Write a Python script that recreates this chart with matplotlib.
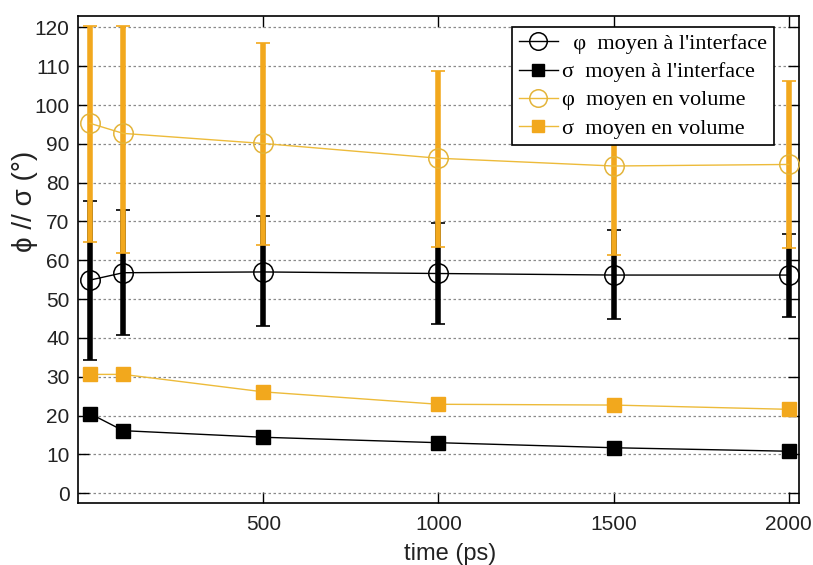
import numpy as np
import matplotlib.pyplot as plt

# time (ps)
t = [5, 100, 500, 1000, 1500, 2000]

# phi at the interface, with error bar ends
phi_int = [54.9, 56.8, 57.0, 56.6, 56.2, 56.2]
phi_int_lo = [34.3, 40.7, 43.0, 43.5, 44.8, 45.4]
phi_int_hi = [75.3, 72.9, 71.4, 69.7, 67.8, 66.9]

# sigma at the interface
sig_int = [20.5, 16.1, 14.4, 13.0, 11.7, 10.8]

# phi in the volume, with error bar ends
phi_vol = [95.3, 92.7, 90.1, 86.3, 84.3, 84.7]
phi_vol_lo = [64.8, 62.0, 63.9, 63.5, 61.3, 63.1]
phi_vol_hi = [120.5, 120.5, 115.9, 108.8, 107.3, 106.3]

# sigma in the volume
sig_vol = [30.6, 30.6, 26.1, 22.9, 22.7, 21.6]

orange = "#F2A81D"
orange_line = "#EDBB3A"

fig = plt.figure(figsize=(8.13, 5.65), dpi=100)
ax = fig.add_axes([0.096, 0.110, 0.887, 0.862])

sans = ["Liberation Sans", "DejaVu Sans"]
serif = ["Liberation Serif", "DejaVu Serif"]

ax.yaxis.grid(True, linestyle=(0, (2, 2)), color="#8a8a8a", linewidth=0.9)
ax.set_axisbelow(True)

t = np.array(t)
phi_int = np.array(phi_int)
phi_vol = np.array(phi_vol)

# error bars: black below orange
ax.errorbar(t, phi_int,
            yerr=[phi_int - np.array(phi_int_lo), np.array(phi_int_hi) - phi_int],
            fmt="none", ecolor="black", elinewidth=4, capsize=5, capthick=1.2,
            zorder=2)
ax.errorbar(t, phi_vol,
            yerr=[phi_vol - np.array(phi_vol_lo), np.array(phi_vol_hi) - phi_vol],
            fmt="none", ecolor=orange, elinewidth=4, capsize=5, capthick=1.2,
            zorder=3)

ax.plot(t, phi_int, color="black", lw=1, marker="o", ms=14, mfc="none",
        mec="black", mew=1.1, zorder=4,
        label="  \u03c6  moyen \u00e0 l'interface")
ax.plot(t, sig_int, color="black", lw=1, marker="s", ms=10, mfc="black",
        mec="black", zorder=4,
        label="\u03c3  moyen \u00e0 l'interface")
ax.plot(t, phi_vol, color=orange_line, lw=1, marker="o", ms=14, mfc="none",
        mec="#E3B43A", mew=1.1, zorder=4,
        label="\u03c6  moyen en volume")
ax.plot(t, sig_vol, color=orange_line, lw=1, marker="s", ms=10, mfc=orange,
        mec=orange, zorder=4,
        label="\u03c3  moyen en volume")

ax.set_xlim(-29, 2030)
ax.set_ylim(-2.5, 123)
ax.set_xticks([500, 1000, 1500, 2000])
ax.set_yticks(np.arange(0, 121, 10))

ax.tick_params(direction="in", length=8, width=1, top=True, right=True,
               labelsize=15)
ax.tick_params(axis="x", pad=9)
ax.tick_params(axis="y", pad=6)
for lab in ax.get_xticklabels() + ax.get_yticklabels():
    lab.set_family(sans)
    lab.set_color("#222222")
for sp in ax.spines.values():
    sp.set_linewidth(1.2)

ax.set_xlabel("time (ps)", family=sans, fontsize=17, color="#222222")
ax.xaxis.set_label_coords(0.516, -0.083)
ax.set_ylabel("\u03d5 // \u03c3 (\u00b0)", family=sans, fontsize=20,
              color="#222222")
ax.yaxis.set_label_coords(-0.055, 0.62)

leg = ax.legend(loc="upper right", bbox_to_anchor=(0.965, 0.977),
                prop={"family": serif, "size": 16}, frameon=True,
                fancybox=False, framealpha=1, edgecolor="black",
                handlelength=1.75, handletextpad=0.2, borderpad=0.3,
                labelspacing=0.34, borderaxespad=0.0, markerscale=0.9)
leg.get_frame().set_linewidth(1.2)
leg.set_zorder(10)

fig.savefig("out.png", dpi=100)
